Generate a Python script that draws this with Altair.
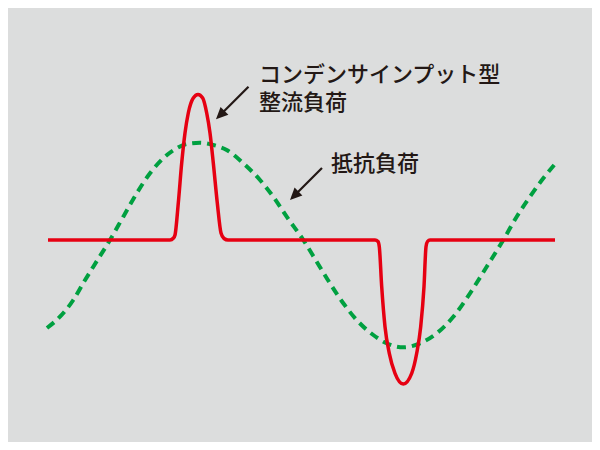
import math
import altair as alt
import pandas as pd

# Resistive load current (green dashed)
green_t = [-1, 12, 25.3, 35.3, 45.3, 62, 75.3, 88.7, 102, 115.3, 128.7, 138.7, 152,
           165.3, 178.7, 195.3, 212, 225.3, 238.7, 255.3, 268.7, 282, 295.3, 308.7,
           325.3, 338.7, 355.3, 372, 388.7, 405.3, 422, 438.7, 455.3, 468.7, 482,
           495.3, 507]
green_i = [-88, -76.7, -60, -43, -26.7, 0, 23.3, 46.7, 66.7, 81.7, 91.7, 96, 97.3,
           95, 90, 76.7, 60, 43.3, 23.3, 0, -21.7, -43.3, -63.3, -80,
           -95, -103.3, -107.3, -103.3, -93.3, -76.7, -53.3, -26.7, 0, 23.3, 43.3,
           61.7, 76]

# Capacitor-input rectifier load current (red)
red_t = [0, 122, 125.5, 127, 130.3, 133.7, 137, 140.3, 145.3, 150, 154.7, 158.7,
         162, 165.3, 169.3, 173, 176, 180, 327, 330, 331.3, 333.7, 337, 341.3,
         347, 355.3, 363.7, 368.7, 372.7, 376, 378, 379.5, 382, 507]
red_i = [0, 0, 2, 5, 37, 77, 107, 127, 142, 145.5, 142, 127,
         107, 77, 37, 7, 1.5, 0, 0, -1.5, -6.7, -46.7, -86.7, -113.3,
         -133.3, -144, -133.3, -113.3, -86.7, -46.7, -6.7, -1.5, 0, 0]

# Annotations
label_text = ["コンデンサインプット型\n整流負荷", "抵抗負荷"]
label_t = [211, 283]
label_i = [164.8, 76]

arrow_tail_t = [200.5, 274]
arrow_tail_i = [153.3, 72]
arrow_tip_t = [168, 242]
arrow_tip_i = [120.7, 40]

BG = "#dcdddd"
RED = "#e60012"
GREEN = "#00a040"
INK = "#231815"
FONT = "Noto Sans CJK JP"

green_df = pd.DataFrame({"t": green_t, "i": green_i})
red_df = pd.DataFrame({"t": red_t, "i": red_i})
label_df = pd.DataFrame({"t": label_t, "i": label_i, "text": label_text})

shaft_rows = []
for t0, i0, t1, i1 in zip(arrow_tail_t, arrow_tail_i, arrow_tip_t, arrow_tip_i):
    d = math.hypot(t0 - t1, i0 - i1)
    ut, ui = (t0 - t1) / d, (i0 - i1) / d
    shaft_rows.append({"t": t0, "i": i0, "t2": t1 + ut * 7, "i2": i1 + ui * 7})
shaft_df = pd.DataFrame(shaft_rows)
head_df = pd.DataFrame({"t": arrow_tip_t, "i": arrow_tip_i})

xs = alt.Scale(domain=[-40, 544], nice=False, zero=False)
ys = alt.Scale(domain=[-202, 232], nice=False, zero=False)
X = alt.X("t:Q", scale=xs, axis=None)
Y = alt.Y("i:Q", scale=ys, axis=None)

green = alt.Chart(green_df).mark_line(
    color=GREEN, strokeWidth=4, strokeDash=[9, 6], interpolate="monotone"
).encode(x=X, y=Y, order="t:Q")

red = alt.Chart(red_df).mark_line(
    color=RED, strokeWidth=3.5, interpolate="monotone", strokeJoin="round"
).encode(x=X, y=Y, order="t:Q")

shaft = alt.Chart(shaft_df).mark_rule(color=INK, strokeWidth=2.2).encode(
    x=X, y=Y, x2="t2:Q", y2="i2:Q"
)

head = alt.Chart(head_df).mark_point(
    shape="M0,0L0.46,1L-0.46,1Z", filled=True, size=576, angle=225,
    color=INK, opacity=1, strokeWidth=0
).encode(x=X, y=Y)

labels = alt.Chart(label_df).mark_text(
    align="left", baseline="middle", font=FONT, fontSize=22, fontWeight=500,
    color=INK, lineBreak="\n", lineHeight=27.5
).encode(x=X, y=Y, text="text:N")

chart = alt.layer(green, red, shaft, head, labels).properties(
    width=584, height=434, background=BG, padding=0,
    autosize=alt.AutoSizeParams(type="none")
).configure_view(stroke=None)

chart.save("out.html", embed_options={"renderer": "svg", "actions": False})
